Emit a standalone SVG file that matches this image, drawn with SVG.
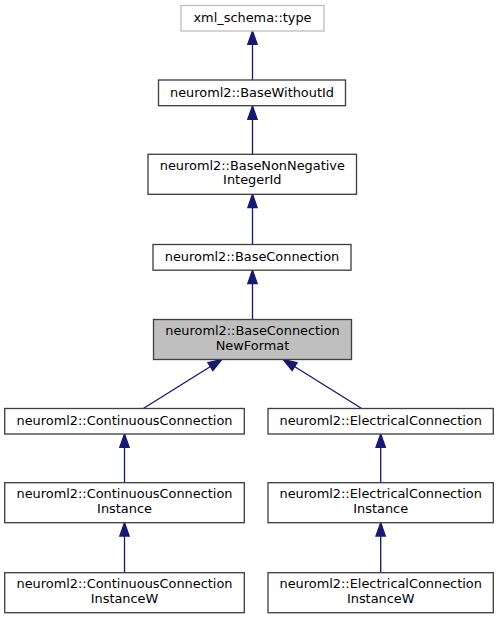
<svg xmlns="http://www.w3.org/2000/svg" width="499" height="619" viewBox="0 0 499 619">
<style>
.n rect{fill:#ffffff;stroke:#404040;stroke-width:1.33}
.n.cur rect{fill:#bfbfbf}
.n.ext rect{stroke:#bfbfbf}
.n text{font-family:"DejaVu Sans",sans-serif;font-size:12.9px;text-anchor:middle;fill:#000000}
.e line{stroke:#191970;stroke-width:1.33;marker-end:url(#arr)}
</style>
<defs>
<marker id="arr" markerUnits="userSpaceOnUse" markerWidth="18" markerHeight="12" refX="13.33" refY="0" viewBox="-1 -6 16 12" orient="auto" overflow="visible">
<path d="M0,-4.67 L13.33,0 L0,4.67 Z" fill="#191970" stroke="#191970" stroke-width="1.33"/>
</marker>
</defs>
<rect width="499" height="619" fill="#ffffff"/>
<g id="edges" class="e">
<line x1="252.5" y1="80" x2="252.5" y2="31"/>
<line x1="252.5" y1="154.3" x2="252.5" y2="106"/>
<line x1="252.5" y1="244.5" x2="252.5" y2="194.3"/>
<line x1="252.5" y1="319.5" x2="252.5" y2="270.2"/>
<line x1="143.3" y1="408.5" x2="221.7" y2="359.5"/>
<line x1="361.7" y1="408.5" x2="283.3" y2="359.5"/>
<line x1="124.5" y1="482.7" x2="124.5" y2="434"/>
<line x1="124.5" y1="572.7" x2="124.5" y2="522.7"/>
<line x1="380.7" y1="482.7" x2="380.7" y2="434"/>
<line x1="380.7" y1="572.7" x2="380.7" y2="522.7"/>
</g>
<g id="xml_schema_type" class="n ext">
<rect x="181" y="5.5" width="143" height="25.5"/>
<text x="252.5" y="22.2">xml_schema::type</text>
</g>
<g id="BaseWithoutId" class="n">
<rect x="158.5" y="80" width="187" height="25.7"/>
<text x="252" y="96.7">neuroml2::BaseWithoutId</text>
</g>
<g id="BaseNonNegativeIntegerId" class="n">
<rect x="148" y="154.3" width="208.5" height="40"/>
<text x="252.3" y="169.7">neuroml2::BaseNonNegative</text>
<text x="252.3" y="184.3">IntegerId</text>
</g>
<g id="BaseConnection" class="n">
<rect x="153" y="244.5" width="198" height="25.7"/>
<text x="252" y="260.8">neuroml2::BaseConnection</text>
</g>
<g id="BaseConnectionNewFormat" class="n cur">
<rect x="153.5" y="319.5" width="198" height="40"/>
<text x="252.5" y="334.8">neuroml2::BaseConnection</text>
<text x="252.5" y="349.5">NewFormat</text>
</g>
<g id="ContinuousConnection" class="n">
<rect x="4.7" y="408.5" width="239.6" height="25.5"/>
<text x="124.5" y="424.7">neuroml2::ContinuousConnection</text>
</g>
<g id="ElectricalConnection" class="n">
<rect x="268" y="408.5" width="225.3" height="25.5"/>
<text x="380.7" y="424.7">neuroml2::ElectricalConnection</text>
</g>
<g id="ContinuousConnectionInstance" class="n">
<rect x="4.7" y="482.7" width="239.6" height="40"/>
<text x="124.5" y="498">neuroml2::ContinuousConnection</text>
<text x="124.5" y="512.7">Instance</text>
</g>
<g id="ElectricalConnectionInstance" class="n">
<rect x="268" y="482.7" width="225.3" height="40"/>
<text x="380.7" y="498">neuroml2::ElectricalConnection</text>
<text x="380.7" y="512.7">Instance</text>
</g>
<g id="ContinuousConnectionInstanceW" class="n">
<rect x="4.7" y="572.7" width="239.6" height="40"/>
<text x="124.5" y="588">neuroml2::ContinuousConnection</text>
<text x="124.5" y="602.7">InstanceW</text>
</g>
<g id="ElectricalConnectionInstanceW" class="n">
<rect x="268" y="572.7" width="225.3" height="40"/>
<text x="380.7" y="588">neuroml2::ElectricalConnection</text>
<text x="380.7" y="602.7">InstanceW</text>
</g>
</svg>
